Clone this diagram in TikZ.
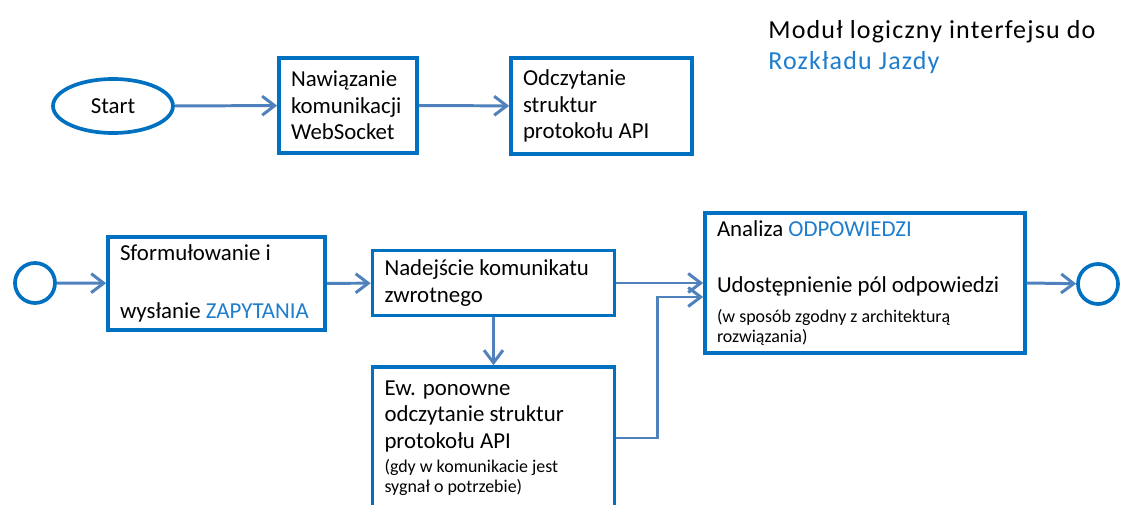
\documentclass[tikz,border=0pt]{standalone}
\usepackage{fontspec}
\setmainfont{Carlito}
\usetikzlibrary{shapes.geometric, arrows.meta, positioning, calc}
\definecolor{cBox}{RGB}{0,112,192}
\definecolor{cLine}{RGB}{79,129,189}
\definecolor{cKey}{RGB}{30,125,205}
\newcommand{\bodytxt}{\fontsize{13}{15}\selectfont}
\newcommand{\smalltxt}{\fontsize{10.2}{11.3}\selectfont}
\newcommand{\titletxt}{\fontsize{14.8}{17.6}\selectfont\addfontfeature{LetterSpace=4.5}}
\tikzset{
	stepbox/.style ={rectangle, draw=cBox, line width=2.1pt, align=flush left, inner xsep=0.24cm, inner ysep=0pt, font=\bodytxt},
	terminal/.style={ellipse, draw=cBox, line width=2.1pt, minimum width=2.4cm, minimum height=1.08cm, inner sep=0pt, font=\bodytxt},
	event/.style   ={circle, draw=cBox, line width=2.1pt, minimum size=0.8cm, inner sep=0pt},
	flow/.style    ={-{Straight Barb[length=2.5mm, width=3.8mm]}, cLine, line width=1.7pt},
}

\begin{document}
\begin{tikzpicture}
	\clip (0,0) rectangle (22.42,10.10);
	% upper row
	\node[terminal] (start) at (2.26,7.98) {Start};
	\node[stepbox, text width=2.28cm, minimum height=1.90cm] (naw) at (6.96,7.99) {Nawiązanie\\ komunikacji\\ WebSocket};
	\node[stepbox, text width=3.14cm, minimum height=1.92cm] (odcz) at (12.03,7.98) {Odczytanie\\ struktur\\ protokołu API};
	\node[anchor=north west, inner sep=0pt, align=flush left, font=\titletxt] (title) at (15.36,9.69) {Moduł logiczny interfejsu do\\ \textcolor{cKey}{Rozkładu Jazdy}};
	\draw[flow] (start) -- (naw);
	\draw[flow] (naw) -- (odcz);
	% lower row
	\node[event] (in) at (0.70,4.44) {};
	\node[stepbox, text width=3.86cm, minimum height=1.86cm] (sform) at (4.33,4.43) {\vspace{0.06cm}Sformułowanie i\\[0.57cm] wysłanie \textcolor{cKey}{ZAPYTANIA}};
	\node[stepbox, text width=4.36cm, minimum height=1.30cm] (nad) at (9.87,4.44) {Nadejście komunikatu\\ zwrotnego};
	\node[stepbox, text width=5.92cm, minimum height=2.80cm] (anal) at (17.30,4.44) {Analiza \textcolor{cKey}{ODPOWIEDZI}\\[0.59cm] Udostępnienie pól odpowiedzi\par\vspace{0.2cm}\smalltxt (w sposób zgodny z architekturą\\ rozwiązania)\par};
	\node[event] (out) at (21.96,4.42) {};
	\node[stepbox, text width=4.36cm, minimum height=2.84cm] (ew) at (9.87,1.34) {Ew. ponowne\\ odczytanie struktur\\ protokołu API\par\vspace{0.08cm}\smalltxt (gdy w komunikacie jest\\ sygnał o potrzebie)\par};
	\draw[flow] (in) -- (sform);
	\draw[flow] (sform) -- (nad);
	\draw[flow] (nad) -- (anal);
	\draw[flow] (anal.east) -- (out);
	\draw[flow] (nad) -- (ew);
	\draw[flow] (ew.east) -- ++(0.82,0) |- ([yshift=-0.28cm]anal.west);
\end{tikzpicture}
\end{document}
